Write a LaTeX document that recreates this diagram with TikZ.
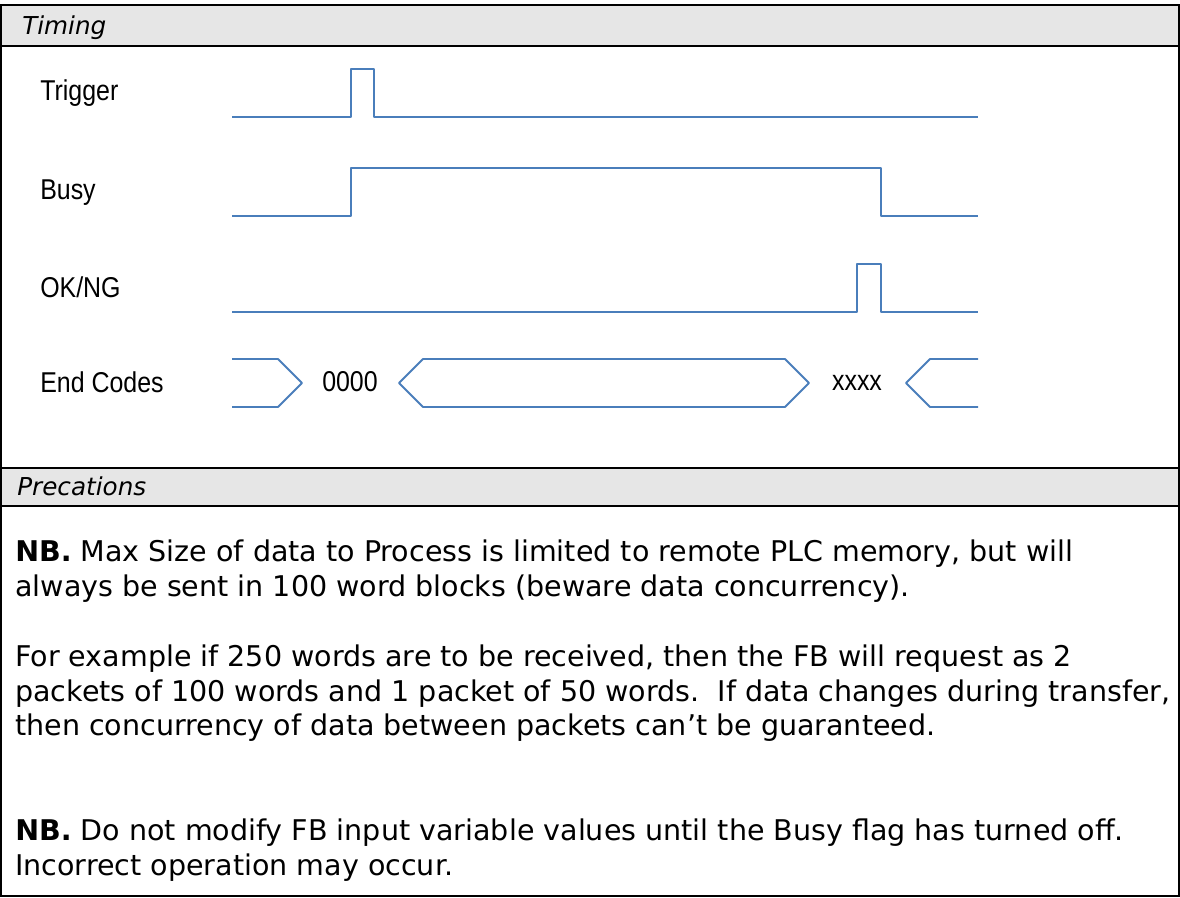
\documentclass[tikz,border=0pt]{standalone}
\usepackage{fontspec}
\setmainfont{DejaVu Sans}
\newfontfamily\siglabelfont[FakeStretch=0.87]{Liberation Sans}
\definecolor{waveblue}{HTML}{4A7EBB}
\definecolor{bandgray}{HTML}{E6E6E6}
\tikzset{
    wave/.style={draw=waveblue, line width=1.4pt, line join=round},
    frameline/.style={draw=black, line width=1.8pt},
    sideline/.style={draw=black, line width=1.4pt},
    bandtitle/.style={anchor=base west, inner sep=0pt, font=\fontsize{18.5}{18.5}\selectfont\itshape},
    siglabel/.style={anchor=base west, inner sep=0pt, font=\siglabelfont\fontsize{21.5}{21.5}\selectfont},
    codetext/.style={anchor=base, inner sep=0pt, font=\siglabelfont\fontsize{21.5}{21.5}\selectfont},
    bodytext/.style={anchor=base west, inner sep=0pt, font=\fontsize{21.4}{21.4}\selectfont}
}
\begin{document}
\begin{tikzpicture}[x=0.75pt, y=-0.75pt]
            \useasboundingbox (0,0) rectangle (1180,897);
            \fill[bandgray] (1,5) rectangle (1179,46);
            \fill[bandgray] (1,468) rectangle (1179,506);
            \draw[sideline] (1,5) -- (1,896);
            \draw[sideline] (1179,5) -- (1179,896);
            \draw[frameline] (0,5) -- (1180,5);
            \draw[frameline] (0,46) -- (1180,46);
            \draw[frameline] (0,468) -- (1180,468);
            \draw[frameline] (0,506) -- (1180,506);
            \draw[frameline] (0,896) -- (1180,896);
            \node[bandtitle] (timing) at (22,34) {Timing};
            \node[bandtitle] (precations) at (17,495) {Precations};
            \node[siglabel] (trigger) at (40,100) {Trigger};
            \node[siglabel] (busy) at (40,199) {Busy};
            \node[siglabel] (okng) at (40,297) {OK/NG};
            \node[siglabel] (endcodes) at (40,392) {End Codes};
            \draw[wave] (232,117) -| (351,69) -| (374,117) -- (978,117);
            \draw[wave] (232,216) -| (351,168) -| (881,216) -- (978,216);
            \draw[wave] (232,312) -| (857,264) -| (881,312) -- (978,312);
            \draw[wave] (232,359) -- (278,359) -- (302,383) -- (278,407) -- (232,407);
            \draw[wave] (399,383) -- (423,359) -- (785,359) -- (809,383) -- (785,407) -- (423,407) -- cycle;
            \draw[wave] (978,359) -- (930,359) -- (906,383) -- (930,407) -- (978,407);
            \node[codetext] (okcode) at (350,391) {0000};
            \node[codetext] (ngcode) at (857,390) {xxxx};
            \node[bodytext] (nbone) at (15,561) {\textbf{NB.} Max Size of data to Process is limited to remote PLC memory, but will};
            \node[bodytext] (nbonecont) at (15,596) {always be sent in 100 word blocks (beware data concurrency).};
            \node[bodytext] (exone) at (15,666) {For example if 250 words are to be received, then the FB will request as 2};
            \node[bodytext] (extwo) at (15,701) {packets of 100 words and 1 packet of 50 words.\ \ If data changes during transfer,};
            \node[bodytext] (exthree) at (15,735) {then concurrency of data between packets can’t be guaranteed.};
            \node[bodytext] (nbtwo) at (15,840) {\textbf{NB.} Do not modify FB input variable values until the Busy flag has turned off.};
            \node[bodytext] (nbtwocont) at (15,875) {Incorrect operation may occur.};
        \end{tikzpicture}
\end{document}
